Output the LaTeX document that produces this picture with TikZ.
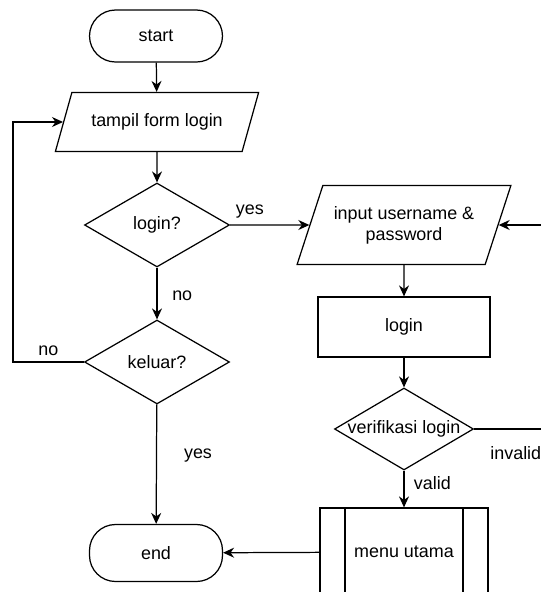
\documentclass[tikz,border=0pt]{standalone}
\usepackage{fontspec}
\setmainfont{Liberation Sans}
\usetikzlibrary{shapes.geometric,arrows.meta}

\tikzset{
  every node/.style={font=\fontsize{10.2}{12}\selectfont},
  term/.style={draw, rectangle, rounded corners=0.52cm, minimum width=2.66cm, minimum height=1.04cm},
  io/.style={draw, trapezium, trapezium left angle=64, trapezium right angle=116, trapezium stretches=true, minimum height=1.18cm, minimum width=4.1cm, align=center},
  decide/.style={draw, diamond, inner sep=0pt, minimum width=2.9cm, minimum height=1.68cm},
  proc/.style={draw, rectangle, minimum width=3.44cm, minimum height=1.2cm},
  subproc/.style={draw, rectangle, minimum width=3.36cm, minimum height=1.76cm,
    path picture={
      \draw ([xshift=0.5cm]path picture bounding box.north west) -- ([xshift=0.5cm]path picture bounding box.south west);
      \draw ([xshift=-0.5cm]path picture bounding box.north east) -- ([xshift=-0.5cm]path picture bounding box.south east);
    }},
  flow/.style={-{Stealth[length=2.2mm,width=2mm]}}
}

\begin{document}
\begin{tikzpicture}[x=0.02cm, y=-0.02cm, line width=0.7pt]
  \useasboundingbox (0,0) rectangle (541,592);
  \node[term] (start) at (156,36) {start};
  \node[io] (tampil) at (157,122) {tampil form login};
  \node[decide] (login?) at (157,225) {login?};
  \node[decide] (keluar) at (157,362) {keluar?};
  \node[term, minimum height=1.14cm] (end) at (156,553) {end};
  \node[io, minimum height=1.58cm, minimum width=4.28cm] (input) at (404,225) {input username \&\\password};
  \node[proc] (login) at (404,327) {login};
  \node[decide, minimum width=2.78cm, minimum height=1.64cm, label={center:verifikasi login}] (verif) at (404,429) {};
  \node[subproc] (menu) at (404,552) {menu utama};
  \coordinate (loopL) at (13,362);
  \coordinate (loopR) at (546,429);

  \path[flow]
  (start) edge (tampil)
  (tampil) edge (login?)
  (login?) edge node [pos=0.25, above] {yes} (input)
  (login?) edge node [pos=0.55, right, xshift=5pt] {no} (keluar)
  (keluar) edge node [pos=0.43, right, xshift=12pt] {yes} (end)
  (input) edge (login)
  (login) edge (verif)
  (verif) edge node [pos=0.35, right, xshift=2pt] {valid} (menu)
  (menu) edge (end)
  ;
  \draw[flow] (keluar.west) -- node [above, pos=0.5] {no} (loopL) |- (tampil.west);
  \draw[flow] (verif.east) -- node [below, pos=0.58, yshift=-6pt] {invalid} (loopR) |- (input.east);
\end{tikzpicture}
\end{document}
